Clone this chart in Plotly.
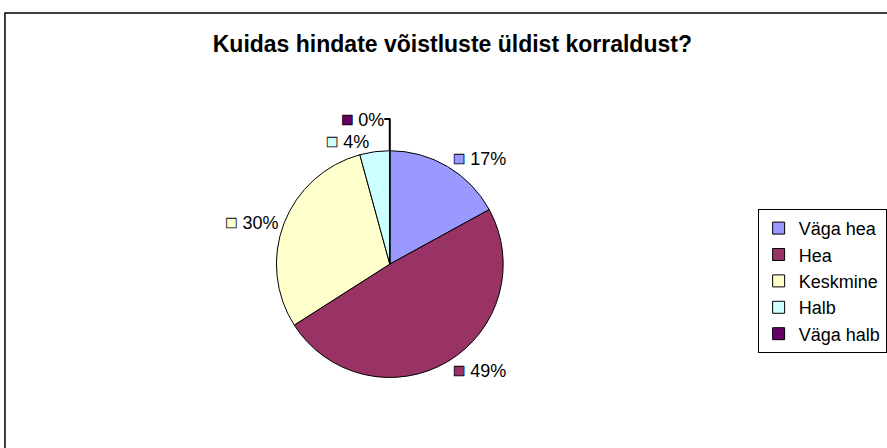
import plotly.graph_objects as go

title = "Kuidas hindate võistluste üldist korraldust?"
labels = ["Väga hea", "Hea", "Keskmine", "Halb", "Väga halb"]
counts = [8, 23, 14, 2, 0]
colors = ["#9999FF", "#993366", "#FFFFCC", "#CCFFFF", "#660066"]

total = sum(counts)
pct_text = [
    f"<span style='color:{c};stroke:black;stroke-width:0.8px;font-size:20px'>■</span> "
    f"{round(100 * v / total)}%"
    for c, v in zip(colors, counts)
]

fig = go.Figure(
    go.Pie(
        labels=labels,
        values=counts,
        text=pct_text,
        texttemplate="%{text}",
        textposition="outside",
        textfont=dict(family="Liberation Sans", size=18, color="black"),
        marker=dict(colors=colors, line=dict(color="black", width=1)),
        sort=False,
        direction="clockwise",
        rotation=0,
        domain=dict(x=[0.3134, 0.5705], y=[0.156, 0.665]),
        hoverinfo="label+percent",
    )
)

fig.update_layout(
    width=887,
    height=448,
    margin=dict(l=0, r=0, t=0, b=0),
    paper_bgcolor="white",
    plot_bgcolor="white",
    font=dict(family="Liberation Sans", size=17, color="black"),
    title=dict(
        text=f"<b>{title}</b>",
        x=0.51,
        xanchor="center",
        y=0.902,
        yanchor="middle",
        font=dict(family="Liberation Sans", size=23, color="black"),
    ),
    legend=dict(
        x=0.859,
        xanchor="left",
        y=0.373,
        yanchor="middle",
        bordercolor="black",
        borderwidth=1,
        bgcolor="white",
        font=dict(family="Liberation Sans", size=18, color="black"),
        tracegroupgap=0,
    ),
    shapes=[
        dict(
            type="rect",
            xref="paper",
            yref="paper",
            x0=5 / 887,
            x1=1.05,
            y0=-0.05,
            y1=1 - 13 / 448,
            line=dict(color="black", width=1.5),
        )
    ],
)

fig.write_html(
    "out.html",
    config={"displayModeBar": False},
    post_script="document.body.style.margin='0';",
)
